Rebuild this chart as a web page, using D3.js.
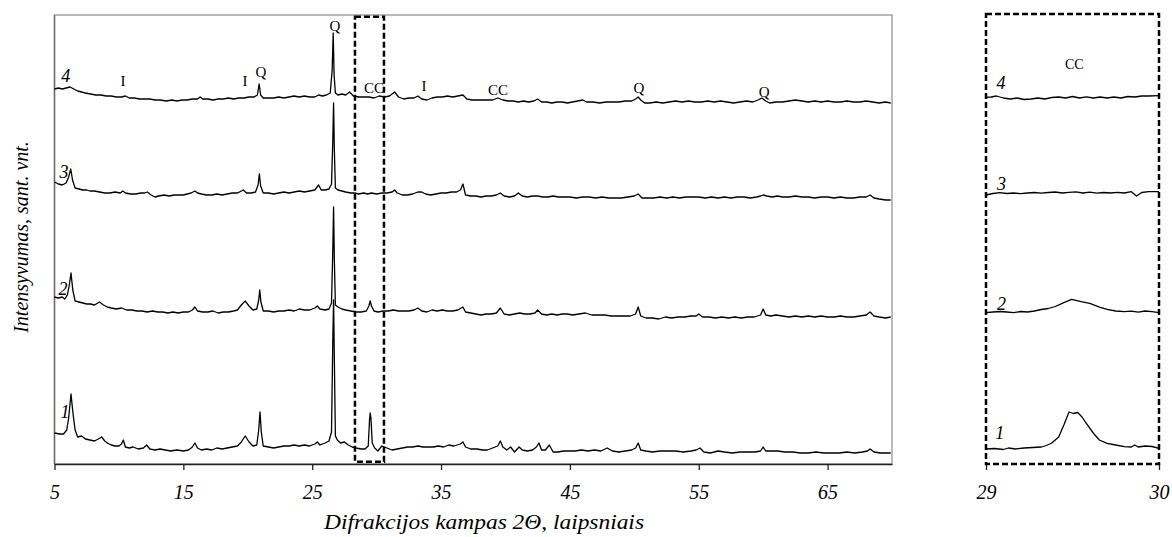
<!DOCTYPE html>
<html><head><meta charset="utf-8">
<script src="https://cdn.jsdelivr.net/npm/d3@7"></script>
<style>
html,body{margin:0;padding:0;background:#fff;}
svg{display:block;}
text{font-family:"Liberation Serif","Times New Roman",serif;fill:#000;}
</style></head>
<body>
<svg id="chart" width="1172" height="537"></svg>
<script>
// ---- DATA (2θ, intensity incl. stacking offset, arbitrary units) ----
const trace1 = [[5.0,31],[5.4,30],[5.7,30],[5.95,34],[6.1,46],[6.28,70],[6.45,49],[6.6,34],[6.8,27],[7.1,28],[7.4,25],[7.75,24],[8.1,23],[8.4,25],[8.66,27],[8.9,23],[9.1,21],[9.4,19],[9.7,18],[10.0,18],[10.2,20],[10.34,24],[10.5,17],[10.8,16],[11.1,17],[11.5,15],[11.9,16],[12.15,19],[12.4,15],[12.8,14],[13.2,15],[13.6,14],[14.0,13],[14.5,14],[15.0,13],[15.4,14],[15.7,17],[15.9,21],[16.1,16],[16.4,14],[16.8,15],[17.2,14],[17.6,16],[18.0,15],[18.4,16],[18.8,17],[19.2,18],[19.5,22],[19.8,28],[20.1,22],[20.4,18],[20.7,19],[20.85,34],[20.95,52],[21.05,32],[21.2,18],[21.6,17],[22.0,16],[22.4,17],[22.8,18],[23.2,18],[23.6,19],[24.0,18],[24.4,19],[24.8,18],[25.2,20],[25.4,22],[25.6,19],[26.0,21],[26.3,23],[26.5,32],[26.6,124],[26.66,164],[26.72,104],[26.8,28],[26.95,24],[27.2,21],[27.5,22],[27.8,19],[28.1,17],[28.4,16],[28.8,15],[29.1,15],[29.35,18],[29.45,44],[29.5,51],[29.56,46],[29.66,21],[29.85,16],[30.1,13],[30.4,18],[30.8,16],[31.2,14],[31.6,15],[32.0,16],[32.4,17],[32.8,17],[33.2,18],[33.6,17],[34.0,17],[34.4,17],[34.8,18],[35.2,17],[35.6,19],[36.0,18],[36.5,20],[36.7,22],[36.9,17],[37.3,15],[37.8,15],[38.2,14],[38.6,14],[39.0,16],[39.4,18],[39.6,23],[39.8,17],[40.1,14],[40.4,17],[40.7,12],[41.06,17],[41.3,14],[41.7,13],[42.1,14],[42.4,17],[42.6,21],[42.8,14],[43.1,14],[43.4,19],[43.7,12],[44.1,12],[44.5,13],[44.9,13],[45.4,13],[45.9,14],[46.4,13],[46.9,14],[47.4,13],[47.9,16],[48.3,13],[48.8,12],[49.3,13],[49.8,14],[50.1,16],[50.3,21],[50.5,14],[50.9,13],[51.4,12],[52.0,13],[52.6,13],[53.2,13],[53.8,12],[54.4,13],[54.8,14],[55.1,16],[55.4,12],[55.9,11],[56.5,13],[57.0,12],[57.6,11],[58.2,12],[58.8,12],[59.4,12],[59.8,13],[60.0,17],[60.2,13],[60.6,13],[61.1,13],[61.7,12],[62.3,12],[62.9,11],[63.5,11],[64.1,12],[64.7,11],[65.3,11],[65.9,11],[66.5,12],[67.1,11],[67.7,12],[68.1,13],[68.3,15],[68.6,12],[69.1,11],[69.6,11],[69.9,11]];
const trace2 = [[5.0,167],[5.3,166],[5.6,167],[5.8,165],[6.0,169],[6.15,179],[6.28,191],[6.42,174],[6.6,163],[6.9,162],[7.2,161],[7.5,160],[7.8,160],[8.1,159],[8.5,162],[8.8,159],[9.1,157],[9.4,156],[9.8,155],[10.2,156],[10.6,154],[11.0,154],[11.4,153],[11.8,153],[12.2,152],[12.6,153],[13.0,152],[13.4,152],[13.8,151],[14.2,152],[14.6,151],[15.0,152],[15.4,152],[15.7,154],[15.9,157],[16.1,153],[16.5,152],[16.9,152],[17.3,153],[17.7,151],[18.1,152],[18.5,152],[18.9,153],[19.2,154],[19.5,159],[19.8,163],[20.1,158],[20.4,154],[20.7,155],[20.85,164],[20.93,174],[21.02,162],[21.2,153],[21.6,153],[22.0,152],[22.4,153],[22.8,153],[23.2,154],[23.6,153],[24.0,155],[24.4,154],[24.8,154],[25.2,156],[25.4,158],[25.6,155],[26.0,154],[26.3,155],[26.5,161],[26.6,214],[26.66,257],[26.72,204],[26.8,159],[27.0,157],[27.3,155],[27.6,154],[28.0,153],[28.4,152],[28.8,152],[29.2,153],[29.4,158],[29.5,163],[29.6,158],[29.8,153],[30.1,152],[30.5,153],[30.9,153],[31.3,154],[31.7,153],[32.1,153],[32.5,153],[32.9,154],[33.2,156],[33.5,153],[33.9,152],[34.3,154],[34.7,153],[35.1,154],[35.5,153],[35.9,153],[36.3,154],[36.7,157],[36.9,152],[37.3,151],[37.7,150],[38.1,149],[38.5,150],[38.9,150],[39.3,151],[39.6,156],[39.9,150],[40.3,149],[40.7,150],[41.1,151],[41.5,150],[41.9,150],[42.3,151],[42.5,154],[42.8,150],[43.2,149],[43.6,150],[44.0,149],[44.4,150],[44.8,150],[45.2,149],[45.7,150],[46.2,151],[46.7,149],[47.2,149],[47.7,149],[48.2,148],[48.7,148],[49.2,148],[49.7,148],[50.1,150],[50.3,157],[50.5,148],[50.9,146],[51.4,146],[51.9,145],[52.4,147],[52.9,146],[53.4,147],[53.9,147],[54.4,148],[54.8,148],[55.0,150],[55.3,147],[55.8,147],[56.3,146],[56.8,147],[57.3,146],[57.8,147],[58.3,146],[58.8,147],[59.3,147],[59.8,149],[60.0,155],[60.2,149],[60.6,148],[61.0,149],[61.5,148],[62.0,147],[62.5,148],[63.0,147],[63.5,148],[64.0,147],[64.5,148],[65.0,147],[65.5,147],[66.0,148],[66.5,147],[67.0,147],[67.5,148],[68.0,149],[68.3,152],[68.6,148],[69.0,147],[69.5,146],[69.9,147]];
const trace3 = [[5.0,282],[5.3,280],[5.6,279],[5.9,281],[6.1,287],[6.26,295],[6.4,284],[6.6,276],[6.9,275],[7.2,274],[7.5,274],[7.75,273],[8.1,273],[8.5,272],[8.9,271],[9.3,271],[9.7,272],[10.1,271],[10.3,273],[10.5,271],[10.9,270],[11.3,270],[11.7,271],[12.0,271],[12.2,272],[12.5,269],[12.8,267],[13.1,268],[13.5,269],[13.9,268],[14.3,269],[14.7,269],[15.0,269],[15.3,270],[15.6,271],[15.9,273],[16.1,271],[16.4,270],[16.8,269],[17.2,269],[17.6,270],[18.0,269],[18.4,270],[18.8,271],[19.2,271],[19.5,273],[19.65,274],[19.9,271],[20.3,271],[20.6,272],[20.8,279],[20.9,290],[21.0,278],[21.2,271],[21.6,271],[22.0,270],[22.4,271],[22.8,272],[23.2,271],[23.6,272],[24.0,273],[24.4,272],[24.8,273],[25.2,274],[25.5,279],[25.7,274],[26.0,274],[26.3,275],[26.5,280],[26.6,324],[26.66,361],[26.72,314],[26.8,276],[27.0,274],[27.3,273],[27.6,272],[28.0,271],[28.3,271],[28.6,270],[29.0,271],[29.3,270],[29.6,271],[30.0,270],[30.4,271],[30.8,271],[31.2,272],[31.4,274],[31.6,271],[32.0,269],[32.4,269],[32.8,270],[33.2,272],[33.5,272],[33.8,270],[34.2,269],[34.6,270],[35.0,271],[35.4,271],[35.8,272],[36.2,272],[36.5,274],[36.7,280],[36.9,269],[37.3,268],[37.7,268],[38.1,267],[38.5,268],[38.9,268],[39.3,269],[39.6,271],[39.9,268],[40.3,267],[40.7,268],[41.0,271],[41.3,268],[41.7,267],[42.1,268],[42.5,268],[42.9,267],[43.3,267],[43.7,268],[44.1,267],[44.5,267],[45.0,267],[45.5,266],[46.0,267],[46.5,267],[47.0,266],[47.5,267],[48.0,266],[48.5,266],[49.0,266],[49.5,267],[50.0,268],[50.3,270],[50.6,266],[51.0,266],[51.5,266],[52.0,267],[52.5,266],[53.0,267],[53.5,266],[54.0,267],[54.5,267],[55.0,267],[55.5,266],[56.0,267],[56.5,266],[57.0,267],[57.5,266],[58.0,267],[58.5,267],[59.0,266],[59.5,267],[59.8,268],[60.0,269],[60.3,268],[60.7,267],[61.1,268],[61.5,267],[62.0,267],[62.5,268],[63.0,267],[63.5,267],[64.0,266],[64.5,267],[65.0,267],[65.5,266],[66.0,267],[66.5,266],[67.0,266],[67.5,267],[68.0,267],[68.3,269],[68.6,266],[69.0,265],[69.5,264],[69.9,264]];
const trace4 = [[5.0,375],[5.3,376],[5.6,375],[5.9,376],[6.2,377],[6.5,375],[6.8,373],[7.1,372],[7.4,371],[7.8,370],[8.2,369],[8.6,369],[9.0,368],[9.4,368],[9.8,367],[10.2,367],[10.5,368],[10.8,366],[11.2,366],[11.6,365],[12.0,365],[12.4,365],[12.8,364],[13.2,364],[13.7,363],[14.1,364],[14.5,363],[14.9,364],[15.3,364],[15.7,365],[16.1,365],[16.3,367],[16.5,365],[16.9,365],[17.3,364],[17.7,365],[18.1,365],[18.5,366],[18.9,365],[19.3,366],[19.7,366],[20.1,367],[20.5,367],[20.75,369],[20.88,380],[21.0,369],[21.2,366],[21.6,366],[22.0,366],[22.4,367],[22.8,366],[23.2,367],[23.6,368],[24.0,367],[24.4,368],[24.8,367],[25.2,367],[25.5,369],[25.8,368],[26.1,369],[26.4,371],[26.55,394],[26.63,431],[26.7,389],[26.8,371],[27.0,369],[27.3,370],[27.6,369],[27.9,372],[28.2,368],[28.6,367],[29.0,367],[29.4,367],[29.8,366],[30.2,368],[30.6,367],[31.0,368],[31.4,372],[31.7,367],[32.1,365],[32.5,366],[32.9,366],[33.2,368],[33.5,365],[33.9,364],[34.3,366],[34.7,367],[35.1,367],[35.5,368],[35.9,367],[36.3,368],[36.7,369],[37.0,365],[37.4,364],[37.8,364],[38.2,364],[38.6,364],[39.0,364],[39.4,366],[39.8,364],[40.2,363],[40.6,363],[41.0,362],[41.4,363],[41.8,362],[42.2,363],[42.5,365],[42.8,362],[43.2,362],[43.6,361],[44.0,362],[44.4,362],[44.8,361],[45.2,362],[45.6,363],[46.0,364],[46.3,362],[46.8,362],[47.3,361],[47.8,362],[48.3,362],[48.8,362],[49.3,363],[49.8,363],[50.1,365],[50.3,367],[50.5,364],[50.8,361],[51.2,361],[51.7,362],[52.2,361],[52.7,362],[53.2,363],[53.7,362],[54.2,363],[54.7,362],[55.2,362],[55.7,363],[56.2,362],[56.7,363],[57.2,362],[57.7,361],[58.2,362],[58.7,363],[59.2,362],[59.6,364],[59.9,366],[60.2,363],[60.5,361],[61.0,362],[61.5,362],[62.0,363],[62.5,364],[63.0,363],[63.5,362],[64.0,363],[64.5,362],[65.0,363],[65.5,362],[66.0,362],[66.5,363],[67.0,362],[67.5,362],[68.0,363],[68.5,362],[69.0,361],[69.5,362],[69.9,361]];

// zoomed region 29–30°
const zoom1 = [[29.0,15],[29.05,15.5],[29.1,14.5],[29.13,16],[29.17,15],[29.22,16],[29.27,16.5],[29.32,17],[29.35,18.5],[29.38,21],[29.42,27],[29.45,39],[29.48,52],[29.505,50.5],[29.53,51.5],[29.555,47],[29.58,40.7],[29.62,31],[29.655,24],[29.7,20.7],[29.75,19],[29.8,17.3],[29.84,17],[29.86,19],[29.88,17],[29.92,18],[29.96,17.5],[30.0,15.7]];
const zoom2 = [[29.0,151.3],[29.04,152],[29.08,152.5],[29.12,152],[29.16,151.3],[29.2,152.5],[29.24,152],[29.28,153],[29.32,154.5],[29.36,155.5],[29.4,157.5],[29.45,161.3],[29.495,164.7],[29.55,162.3],[29.6,160.7],[29.66,156.7],[29.7,154.7],[29.75,153],[29.8,152.3],[29.84,152.8],[29.88,151.8],[29.92,153],[29.96,152.3],[30.0,151.3]];
const zoom3 = [[29.0,269],[29.04,270.5],[29.08,271.3],[29.12,270.5],[29.16,271],[29.2,270.3],[29.24,271],[29.28,271.5],[29.32,270.8],[29.36,271.5],[29.4,272],[29.44,271],[29.48,271.6],[29.52,272.2],[29.56,271],[29.6,271.8],[29.64,270.8],[29.68,271.5],[29.72,271],[29.76,271.6],[29.8,271],[29.84,272.3],[29.87,268],[29.9,271.5],[29.94,272.3],[30.0,272.3]];
const zoom4 = [[29.0,366.7],[29.03,367],[29.06,368],[29.1,366],[29.14,365],[29.18,366],[29.22,364.5],[29.26,365],[29.3,366],[29.34,365],[29.38,366.5],[29.42,367],[29.46,366],[29.5,367.5],[29.54,366],[29.58,367.2],[29.62,366],[29.66,367],[29.7,366],[29.74,367],[29.78,366],[29.82,367.5],[29.86,367],[29.9,368],[29.94,368],[30.0,368.3]];

const xTicksLeft = [5,15,25,35,45,55,65];
const xTicksRight = [29,30];
const traceNames = ["1","2","3","4"];
const labelPosLeft = [[5.81,46],[5.66,169],[5.74,286],[5.87,382]];
const labelPosRight = [[29.08,25],[29.09,154],[29.09,274],[29.087,375]];
const phaseLabels = [["I",10.32,378],["I",19.78,378],["Q",21.03,387],["Q",26.77,433],["CC",29.8,371],["I",33.68,373],["CC",39.42,369],["Q",50.36,371],["Q",60.07,367]];
const phaseLabelRight = [["CC",29.51,395]];
const zoomBoxLeft = [28.32,30.57];

// ---- DRAW ----
const svg = d3.select("#chart");
const xL = d3.scaleLinear().domain([5,70]).range([54.5,892]);
const xR = d3.scaleLinear().domain([29,30]).range([986,1159]);
const y = d3.scaleLinear().domain([0,450]).range([464,14]);

// frame of left panel
svg.append("rect").attr("x",xL(5)).attr("y",y(449)).attr("width",xL(70)-xL(5)).attr("height",y(0)-y(449))
  .attr("fill","none").attr("stroke","#8a8a8a").attr("stroke-width",1.2);
svg.append("line").attr("x1",xL(5)).attr("x2",xL(5)).attr("y1",y(449)).attr("y2",y(0))
  .attr("stroke","#6a6a6a").attr("stroke-width",1.5);

const lineL = d3.line().x(d=>xL(d[0])).y(d=>y(d[1]));
const lineR = d3.line().x(d=>xR(d[0])).y(d=>y(d[1]));

[trace1,trace2,trace3,trace4].forEach(t=>{
  svg.append("path").attr("d",lineL(t)).attr("fill","none").attr("stroke","#000").attr("stroke-width",1.3).attr("stroke-linejoin","round");
});
[zoom1,zoom2,zoom3,zoom4].forEach(t=>{
  svg.append("path").attr("d",lineR(t)).attr("fill","none").attr("stroke","#000").attr("stroke-width",1.3).attr("stroke-linejoin","round");
});

// axes
const fmt = d3.format("d");
const axL = svg.append("g").attr("transform",`translate(0,${y(0)})`)
  .call(d3.axisBottom(xL).tickValues(xTicksLeft).tickFormat(fmt).tickSize(6).tickSizeOuter(0).tickPadding(15));
axL.select(".domain").attr("stroke","#222").attr("stroke-width",1.5);
const axR = svg.append("g").attr("transform",`translate(0,${y(0)})`)
  .call(d3.axisBottom(xR).tickValues(xTicksRight).tickFormat(fmt).tickSize(6).tickSizeOuter(0).tickPadding(15));
axR.select(".domain").remove();
svg.selectAll(".tick line").attr("stroke","#222").attr("stroke-width",1.3);
svg.selectAll(".tick text").style("font-family","'Liberation Serif',serif").style("font-style","italic").style("font-size","20px").attr("fill","#000");

// dashed boxes
svg.append("rect").attr("x",xL(zoomBoxLeft[0])).attr("y",y(447.3)).attr("width",xL(zoomBoxLeft[1])-xL(zoomBoxLeft[0])).attr("height",y(2.3)-y(447.3))
  .attr("fill","none").attr("stroke","#000").attr("stroke-width",2.5).attr("stroke-dasharray","6,3");
svg.append("rect").attr("x",xR(29)).attr("y",y(450)).attr("width",xR(30)-xR(29)).attr("height",y(0)-y(450))
  .attr("fill","none").attr("stroke","#000").attr("stroke-width",2.5).attr("stroke-dasharray","6,3");

// trace numbers
traceNames.forEach((n,i)=>{
  svg.append("text").attr("x",xL(labelPosLeft[i][0])).attr("y",y(labelPosLeft[i][1])).attr("text-anchor","middle")
    .style("font-style","italic").style("font-size","18px").text(n);
  svg.append("text").attr("x",xR(labelPosRight[i][0])).attr("y",y(labelPosRight[i][1])).attr("text-anchor","middle")
    .style("font-style","italic").style("font-size","18px").text(n);
});
// phase labels
phaseLabels.forEach(p=>{
  svg.append("text").attr("x",xL(p[1])).attr("y",y(p[2])).attr("text-anchor","middle").style("font-size","15px").text(p[0]);
});
phaseLabelRight.forEach(p=>{
  svg.append("text").attr("x",xR(p[1])).attr("y",y(p[2])).attr("text-anchor","middle").style("font-size","14px").text(p[0]);
});

// axis titles
svg.append("text").attr("x",484).attr("y",529).attr("text-anchor","middle")
  .attr("textLength",320).attr("lengthAdjust","spacingAndGlyphs")
  .style("font-style","italic").style("font-size","22px").text("Difrakcijos kampas 2Θ, laipsniais");
svg.append("text").attr("transform","translate(28,237) rotate(-90)").attr("text-anchor","middle")
  .style("font-style","italic").style("font-size","20px").text("Intensyvumas, sant. vnt.");
</script>
</body></html>
